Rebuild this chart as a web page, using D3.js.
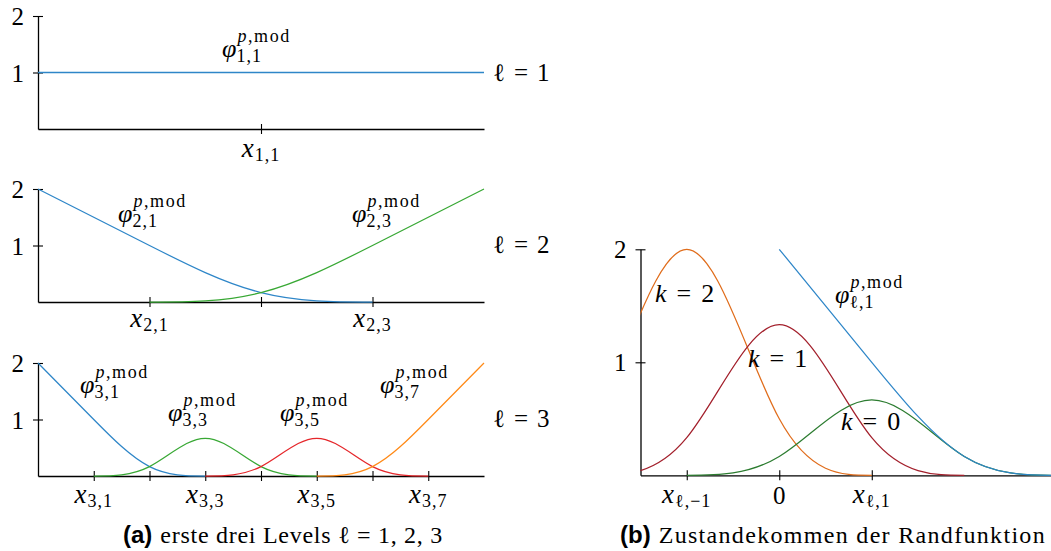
<!DOCTYPE html>
<html><head><meta charset="utf-8">
<script src="https://cdn.jsdelivr.net/npm/d3@7"></script>
<style>
body{margin:0;background:#fff}
svg{display:block}
text{font-family:"Liberation Serif","DejaVu Serif",serif;fill:#000}
</style></head><body><svg id="fig" width="1051" height="551"></svg>
<script>
// ---------- data ----------
// Value ticks shared by every panel
const yTicks = [1, 2];

// Level 1: constant basis function
const level1Ticks = [0.5];
const level1Labeled = [0.5];
const level1Names = ["1,1"];
const phi11X = [0, 1];
const phi11Y = [1, 1];

// Level 2 (knot spacing 1/4): cubic B-spline control coefficients per knot
const level2Ticks = [0.25, 0.5, 0.75];
const level2Labeled = [0.25, 0.75];
const level2Names = ["2,1", "2,3"];
const phi21Knots = [-0.25, 0, 0.25, 0.5, 0.75, 1.0];
const phi21Coef  = [3, 2, 1, 0, 0, 0];
const phi23Knots = [0, 0.25, 0.5, 0.75, 1.0, 1.25];
const phi23Coef  = [0, 0, 0, 1, 2, 3];

// Level 3 (knot spacing 1/8)
const level3Ticks = [0.125, 0.25, 0.375, 0.5, 0.625, 0.75, 0.875];
const level3Labeled = [0.125, 0.375, 0.625, 0.875];
const level3Names = ["3,1", "3,3", "3,5", "3,7"];
const phi31Knots = [-0.125, 0, 0.125, 0.25, 0.375, 0.5];
const phi31Coef  = [3, 2, 1, 0, 0, 0];
const phi33Knots = [0, 0.125, 0.25, 0.375, 0.5, 0.625, 0.75];
const phi33Coef  = [0, 0, 0, 1, 0, 0, 0];
const phi35Knots = [0.25, 0.375, 0.5, 0.625, 0.75, 0.875, 1.0];
const phi35Coef  = [0, 0, 0, 1, 0, 0, 0];
const phi37Knots = [0.5, 0.625, 0.75, 0.875, 1.0, 1.125];
const phi37Coef  = [0, 0, 0, 1, 2, 3];

// Boundary construction (x in units of the mesh width h)
const bTicks = [-1, 0, 1];
const bTickNames = ["ℓ,−1", "0", "ℓ,1"];
const k2Knots = [-3, -2, -1, 0, 1, 2];
const k2Coef  = [0, 0, 3, 0, 0, 0];
const k1Knots = [-3, -2, -1, 0, 1, 2, 3];
const k1Coef  = [0, 0, 0, 2, 0, 0, 0];
const k0Knots = [-2, -1, 0, 1, 2, 3, 4];
const k0Coef  = [0, 0, 0, 1, 0, 0, 0];
const bndKnots = [-1, 0, 1, 2, 3, 4];
const bndCoef  = [3, 2, 1, 0, 0, 0];

// ---------- styling ----------
const C = {
  blue: "#2e86c8", green: "#38a834", red: "#e5262a", orange: "#ff8a17",
  bOrange: "#e06d1c", bRed: "#a3202c", bGreen: "#2c7c30", bBlue: "#2e86c8"
};
const SCRIPT = 18;

const svg = d3.select("#fig");
const zip = (a, b) => a.map((v, i) => [v, b[i]]);

function panel(cfg) {
  const g = svg.append("g");
  const x = d3.scaleLinear().domain(cfg.xDomain).range(cfg.xRange);
  const y = d3.scaleLinear().domain([0, 2]).range([cfg.base, cfg.top]);
  const ax = g.append("g").attr("transform", `translate(0,${cfg.base})`)
    .call(d3.axisBottom(x).tickValues(cfg.xTicks).tickSize(5).tickSizeOuter(0).tickFormat(""));
  ax.selectAll(".tick line").attr("y1", -5).attr("y2", 5);
  const ay = g.append("g").attr("transform", `translate(${cfg.xRange[0]},0)`)
    .call(d3.axisLeft(y).tickValues(yTicks).tickSize(5).tickSizeOuter(0).tickPadding(9).tickFormat(d3.format("d")));
  ay.selectAll(".tick line").attr("x1", 5).attr("x2", -5);
  ay.selectAll(".tick text").style("font-family", '"Liberation Serif",serif').style("font-size", "25px").attr("dy", "0.34em");
  g.selectAll(".domain").attr("stroke", "#000").attr("stroke-width", 1.3);
  g.selectAll(".tick line").attr("stroke", "#000").attr("stroke-width", 1.1);
  return { g, x, y };
}

const basis = (p) => d3.line().x(d => p.x(d[0])).y(d => p.y(d[1])).curve(d3.curveBasisOpen);
const straight = (p) => d3.line().x(d => p.x(d[0])).y(d => p.y(d[1]));

function drawCurve(p, knots, coef, color, clip) {
  const path = p.g.append("path").attr("d", basis(p)(zip(knots, coef)))
    .attr("fill", "none").attr("stroke", color).attr("stroke-width", 1.25);
  if (clip) path.attr("clip-path", `url(#${clip})`);
}

// x with subscript, centered on a tick
function xLabel(g, cx, y, sub) {
  const t = g.append("text").attr("x", cx).attr("y", y).attr("text-anchor", "middle");
  if (sub === "0") { t.style("font-size", "25px").attr("y", y + 1).text("0"); return; }
  t.append("tspan").style("font-style", "italic").style("font-size", "27px").text("x");
  t.append("tspan").style("font-size", SCRIPT + "px").attr("dx", 1).attr("dy", 4)
    .style("letter-spacing", "1px").text(sub);
}

// φ with stacked superscript p,mod and subscript
function phiLabel(g, x, y, sub) {
  const b = g.append("text").attr("x", x).attr("y", y)
    .style("font-style", "italic").style("font-size", "26px").text("φ");
  const w = b.node().getComputedTextLength();
  const sp = g.append("text").attr("x", x + w + 1).attr("y", y - 15)
    .style("font-size", SCRIPT + "px").style("letter-spacing", "1.6px");
  sp.append("tspan").style("font-style", "italic").text("p");
  sp.append("tspan").text(",mod");
  g.append("text").attr("x", x + w).attr("y", y + 5).style("font-size", SCRIPT + "px")
    .style("letter-spacing", "1px").text(sub);
}

// relation label such as "ℓ = 1" or "k = 0"
function relLabel(g, x, y, sym, italic, val, size, gap) {
  const t = g.append("text").attr("x", x).attr("y", y).style("font-size", size + "px");
  t.append("tspan").style("font-style", italic ? "italic" : "normal").text(sym);
  t.append("tspan").attr("dx", gap).text("=");
  t.append("tspan").attr("dx", gap).text(val);
}

// ---------- (a) levels 1..3 ----------
const LX = [38, 484];
const p1 = panel({ xDomain: [0, 1], xRange: LX, base: 129, top: 16, xTicks: level1Ticks });
p1.g.append("path").attr("d", straight(p1)(zip(phi11X, phi11Y)))
  .attr("fill", "none").attr("stroke", C.blue).attr("stroke-width", 1.4);
level1Labeled.forEach((v, i) => xLabel(p1.g, p1.x(v), 157, level1Names[i]));
phiLabel(p1.g, 222, 57, "1,1");
relLabel(p1.g, 493, 81, "ℓ", false, "1", 25, 9);

const p2 = panel({ xDomain: [0, 1], xRange: LX, base: 302, top: 189, xTicks: level2Ticks });
drawCurve(p2, phi21Knots, phi21Coef, C.blue);
drawCurve(p2, phi23Knots, phi23Coef, C.green);
level2Labeled.forEach((v, i) => xLabel(p2.g, p2.x(v), 327, level2Names[i]));
phiLabel(p2.g, 118, 222, "2,1");
phiLabel(p2.g, 352, 222, "2,3");
relLabel(p2.g, 493, 253, "ℓ", false, "2", 25, 9);

const p3 = panel({ xDomain: [0, 1], xRange: LX, base: 476, top: 363, xTicks: level3Ticks });
drawCurve(p3, phi31Knots, phi31Coef, C.blue);
drawCurve(p3, phi33Knots, phi33Coef, C.green);
drawCurve(p3, phi35Knots, phi35Coef, C.red);
drawCurve(p3, phi37Knots, phi37Coef, C.orange);
level3Labeled.forEach((v, i) => xLabel(p3.g, p3.x(v), 503, level3Names[i]));
phiLabel(p3.g, 80, 393, "3,1");
phiLabel(p3.g, 168, 421, "3,3");
phiLabel(p3.g, 280, 421, "3,5");
phiLabel(p3.g, 380, 393, "3,7");
relLabel(p3.g, 493, 427, "ℓ", false, "3", 25, 9);

// ---------- (b) boundary function ----------
const pb = panel({ xDomain: [-1.5, 3], xRange: [640.5, 1056.8], base: 475.3, top: 249.3, xTicks: bTicks });
svg.append("defs").append("clipPath").attr("id", "clipB").append("rect")
  .attr("x", pb.x(-1.5)).attr("y", 0).attr("width", 1051 - pb.x(-1.5)).attr("height", 551);
drawCurve(pb, k2Knots, k2Coef, C.bOrange, "clipB");
drawCurve(pb, k1Knots, k1Coef, C.bRed, "clipB");
drawCurve(pb, k0Knots, k0Coef, C.bGreen, "clipB");
drawCurve(pb, bndKnots, bndCoef, C.bBlue, "clipB");
bTicks.forEach((v, i) => xLabel(pb.g, pb.x(v), 503, bTickNames[i]));
relLabel(pb.g, 655, 302, "k", true, "2", 26, 10);
relLabel(pb.g, 748, 367, "k", true, "1", 26, 10);
relLabel(pb.g, 841, 430, "k", true, "0", 26, 10);
phiLabel(pb.g, 835, 303, "ℓ,1");

// ---------- captions ----------
function caption(x0, x1, y, tag, body) {
  const t = svg.append("text").attr("x", x0).attr("y", y).style("font-size", "24px");
  t.append("tspan").style("font-family", '"Liberation Sans",Arial,sans-serif').style("font-weight", "bold").text(tag);
  const b = t.append("tspan").attr("dx", 8).text(body);
  // spread the body text to the caption's width
  const w = t.node().getComputedTextLength() + 8;
  const n = body.length;
  b.style("letter-spacing", Math.max(0, (x1 - x0 - w) / n) + "px");
}
caption(123, 443, 543, "(a)", "erste drei Levels ℓ = 1, 2, 3");
caption(620, 1046, 543, "(b)", "Zustandekommen der Randfunktion");
</script></body></html>
